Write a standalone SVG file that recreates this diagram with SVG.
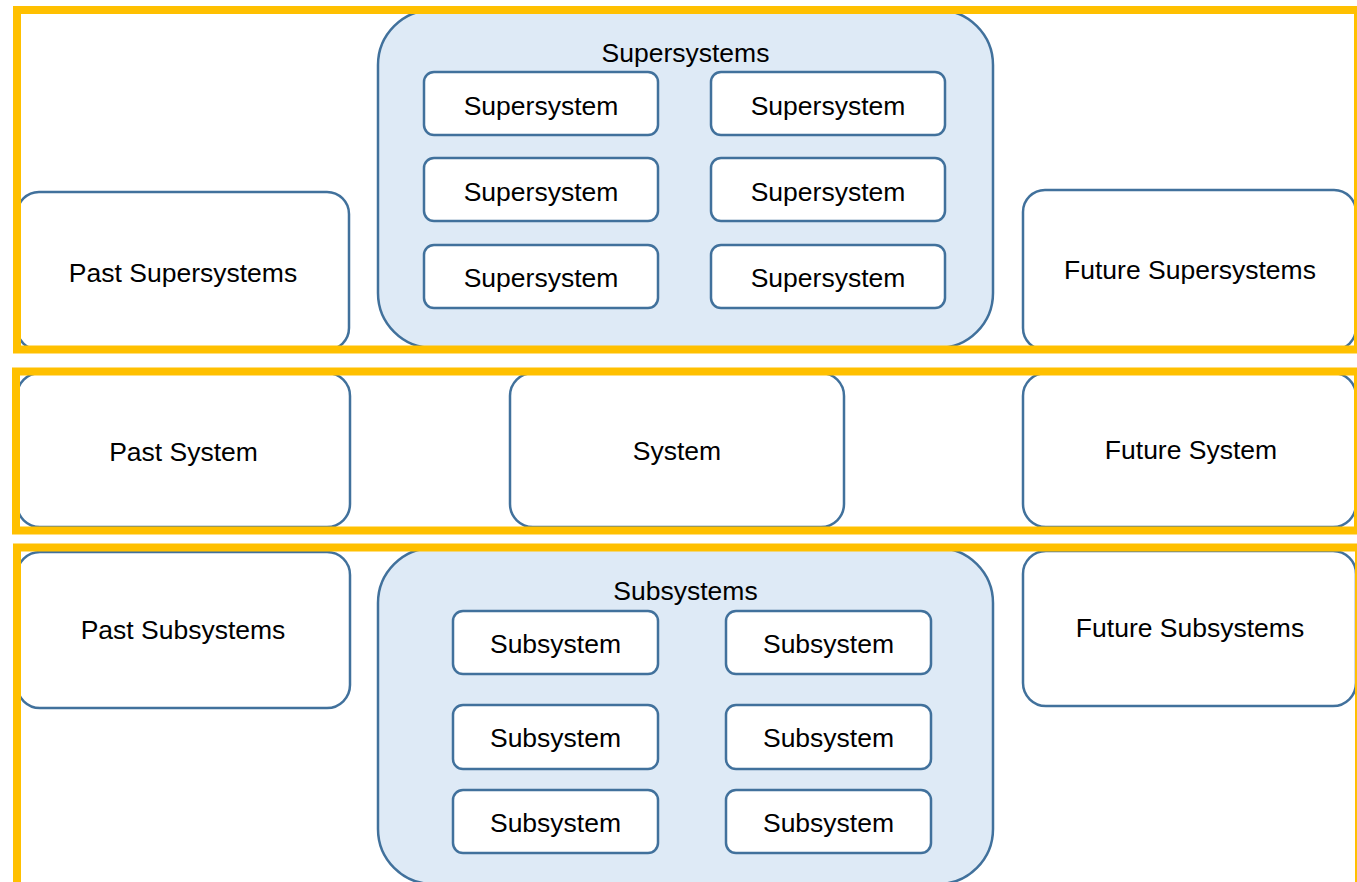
<svg xmlns="http://www.w3.org/2000/svg" width="1357" height="882" viewBox="0 0 1357 882">
  <style>
    .node { fill: #ffffff; stroke: #41719c; stroke-width: 2.5; }
    .container { fill: #deeaf6; stroke: #41719c; stroke-width: 2.5; }
    .band { fill: none; stroke: #ffc000; stroke-width: 8; }
    text { font-family: "Liberation Sans", Arial, sans-serif; font-size: 26.5px; fill: #000000; text-anchor: middle; }
  </style>
  <rect x="0" y="0" width="1357" height="882" fill="#ffffff"/>

  <!-- Supersystem level -->
  <g id="past-supersystems">
    <rect class="node" x="17" y="192" width="332" height="158" rx="22"/>
    <text x="183" y="282">Past Supersystems</text>
  </g>
  <g id="supersystems">
    <rect class="container" x="378" y="10" width="615" height="338" rx="55"/>
    <text x="685.5" y="62">Supersystems</text>
  </g>
  <g id="supersystem-1">
    <rect class="node" x="424" y="72" width="234" height="63" rx="10"/>
    <text x="541" y="115">Supersystem</text>
  </g>
  <g id="supersystem-2">
    <rect class="node" x="711" y="72" width="234" height="63" rx="10"/>
    <text x="828" y="115">Supersystem</text>
  </g>
  <g id="supersystem-3">
    <rect class="node" x="424" y="158" width="234" height="63" rx="10"/>
    <text x="541" y="201">Supersystem</text>
  </g>
  <g id="supersystem-4">
    <rect class="node" x="711" y="158" width="234" height="63" rx="10"/>
    <text x="828" y="201">Supersystem</text>
  </g>
  <g id="supersystem-5">
    <rect class="node" x="424" y="245" width="234" height="63" rx="10"/>
    <text x="541" y="287">Supersystem</text>
  </g>
  <g id="supersystem-6">
    <rect class="node" x="711" y="245" width="234" height="63" rx="10"/>
    <text x="828" y="287">Supersystem</text>
  </g>
  <g id="future-supersystems">
    <rect class="node" x="1023" y="190" width="333" height="160" rx="22"/>
    <text x="1190" y="279">Future Supersystems</text>
  </g>

  <!-- System level -->
  <g id="past-system">
    <rect class="node" x="17" y="373" width="333" height="154" rx="23"/>
    <text x="183.5" y="461">Past System</text>
  </g>
  <g id="system">
    <rect class="node" x="510" y="373" width="334" height="154" rx="23"/>
    <text x="677" y="460">System</text>
  </g>
  <g id="future-system">
    <rect class="node" x="1023" y="373" width="333" height="154" rx="23"/>
    <text x="1191" y="459">Future System</text>
  </g>

  <!-- Subsystem level -->
  <g id="past-subsystems">
    <rect class="node" x="17" y="552" width="333" height="156" rx="23"/>
    <text x="183" y="639">Past Subsystems</text>
  </g>
  <g id="subsystems">
    <rect class="container" x="378" y="548" width="615" height="336" rx="55"/>
    <text x="685.5" y="600">Subsystems</text>
  </g>
  <g id="subsystem-1">
    <rect class="node" x="453" y="611" width="205" height="63" rx="10"/>
    <text x="555.5" y="653">Subsystem</text>
  </g>
  <g id="subsystem-2">
    <rect class="node" x="726" y="611" width="205" height="63" rx="10"/>
    <text x="828.5" y="653">Subsystem</text>
  </g>
  <g id="subsystem-3">
    <rect class="node" x="453" y="705" width="205" height="64" rx="10"/>
    <text x="555.5" y="747">Subsystem</text>
  </g>
  <g id="subsystem-4">
    <rect class="node" x="726" y="705" width="205" height="64" rx="10"/>
    <text x="828.5" y="747">Subsystem</text>
  </g>
  <g id="subsystem-5">
    <rect class="node" x="453" y="790" width="205" height="63" rx="10"/>
    <text x="555.5" y="832">Subsystem</text>
  </g>
  <g id="subsystem-6">
    <rect class="node" x="726" y="790" width="205" height="63" rx="10"/>
    <text x="828.5" y="832">Subsystem</text>
  </g>
  <g id="future-subsystems">
    <rect class="node" x="1023" y="551" width="333" height="155" rx="23"/>
    <text x="1190" y="637">Future Subsystems</text>
  </g>

  <!-- Level bands drawn over the node edges -->
  <g id="bands">
    <rect class="band" x="17" y="10" width="1341" height="339.5"/>
    <rect class="band" x="16" y="371.5" width="1342" height="159"/>
    <rect class="band" x="17" y="547.5" width="1342" height="345"/>
  </g>

  <g id="connectors"/>
</svg>
